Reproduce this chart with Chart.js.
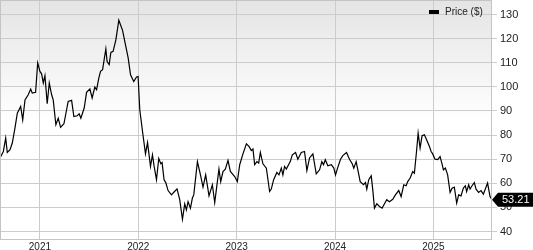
<!DOCTYPE html>
<html>
<head>
<meta charset="utf-8">
<script src="https://cdn.jsdelivr.net/npm/chart.js@4"></script>
<style>
  html, body { margin: 0; padding: 0; background: #fff; }
  #wrap { width: 533px; height: 250px; position: relative; }
</style>
</head>
<body>
<div id="wrap"><canvas id="PRICE_CHART"></canvas></div>
<script>
// dates as decimal years
const dates = [
  2020.594, 2020.628, 2020.652, 2020.668, 2020.696, 2020.719, 2020.746, 2020.770, 2020.804, 2020.825,
  2020.848, 2020.881, 2020.906, 2020.922, 2020.956, 2020.977, 2021.000, 2021.017, 2021.034, 2021.051,
  2021.074, 2021.095, 2021.119, 2021.135, 2021.162, 2021.186, 2021.210, 2021.244, 2021.271, 2021.287,
  2021.322, 2021.345, 2021.379, 2021.399, 2021.416, 2021.450, 2021.474, 2021.508, 2021.531, 2021.558,
  2021.576, 2021.599, 2021.616, 2021.637, 2021.670, 2021.683, 2021.704, 2021.721, 2021.744, 2021.772,
  2021.802, 2021.840, 2021.873, 2021.897, 2021.921, 2021.954, 2021.982, 2021.998, 2022.015, 2022.043,
  2022.073, 2022.094, 2022.124, 2022.144, 2022.161, 2022.185, 2022.208, 2022.229, 2022.242, 2022.262,
  2022.279, 2022.303, 2022.337, 2022.366, 2022.394, 2022.421, 2022.449, 2022.472, 2022.489, 2022.506,
  2022.530, 2022.550, 2022.564, 2022.601, 2022.632, 2022.658, 2022.685, 2022.719, 2022.753, 2022.777,
  2022.820, 2022.838, 2022.861, 2022.885, 2022.912, 2022.936, 2022.980, 2023.007, 2023.031, 2023.064,
  2023.099, 2023.125, 2023.149, 2023.166, 2023.183, 2023.206, 2023.224, 2023.241, 2023.267, 2023.302,
  2023.335, 2023.352, 2023.376, 2023.409, 2023.430, 2023.454, 2023.470, 2023.487, 2023.505, 2023.545,
  2023.566, 2023.599, 2023.622, 2023.657, 2023.690, 2023.714, 2023.741, 2023.775, 2023.809, 2023.843,
  2023.866, 2023.883, 2023.901, 2023.927, 2023.962, 2023.988, 2024.005, 2024.026, 2024.056, 2024.079,
  2024.117, 2024.147, 2024.175, 2024.191, 2024.215, 2024.232, 2024.256, 2024.289, 2024.310, 2024.323,
  2024.343, 2024.368, 2024.384, 2024.401, 2024.425, 2024.452, 2024.479, 2024.503, 2024.526, 2024.553,
  2024.587, 2024.614, 2024.648, 2024.672, 2024.699, 2024.723, 2024.739, 2024.764, 2024.790, 2024.807,
  2024.831, 2024.845, 2024.865, 2024.885, 2024.909, 2024.932, 2024.960, 2024.977, 2024.993, 2025.017,
  2025.044, 2025.068, 2025.088, 2025.102, 2025.122, 2025.145, 2025.170, 2025.190, 2025.213, 2025.237,
  2025.257, 2025.281, 2025.305, 2025.325, 2025.338, 2025.359, 2025.373, 2025.393, 2025.416, 2025.434,
  2025.460, 2025.484, 2025.508, 2025.535, 2025.551, 2025.576, 2025.596
];
const prices = [
  70.5, 73.2, 78.8, 72.8, 73.9, 76.7, 82.9, 89.1, 91.9, 86.3,
  94.6, 96.7, 99.1, 97.4, 97.7, 109.9, 106.4, 105.4, 101.6, 104.6,
  93.0, 101.6, 96.7, 94.6, 84.3, 87.0, 83.2, 84.7, 90.5, 93.9,
  94.4, 87.7, 88.0, 88.8, 87.0, 91.2, 97.7, 99.1, 95.4, 99.9,
  98.8, 103.7, 106.4, 107.1, 115.7, 110.5, 109.2, 114.3, 114.7, 119.5,
  127.6, 123.4, 116.8, 112.0, 105.0, 102.2, 104.1, 104.3, 90.5, 81.5,
  72.2, 76.9, 67.0, 71.8, 67.0, 61.5, 70.3, 68.1, 68.6, 61.5,
  60.3, 57.0, 55.2, 56.5, 57.7, 53.2, 45.1, 51.5, 49.0, 52.4,
  49.7, 53.9, 55.2, 69.0, 63.5, 58.4, 63.5, 54.8, 59.4, 52.0,
  65.9, 60.7, 64.9, 65.9, 69.5, 64.9, 62.8, 60.7, 67.7, 72.2,
  76.4, 75.3, 73.6, 74.2, 67.7, 69.0, 68.4, 72.8, 68.1, 66.3,
  56.6, 57.6, 61.5, 64.5, 63.5, 66.3, 63.5, 67.0, 65.9, 69.0,
  71.8, 72.8, 70.0, 72.8, 73.2, 65.3, 70.5, 72.2, 63.9, 65.6,
  69.0, 67.7, 69.8, 67.3, 67.7, 66.3, 63.5, 66.3, 70.0, 71.5,
  72.8, 70.0, 68.1, 66.3, 69.0, 65.6, 60.7, 59.4, 60.3, 57.6,
  61.5, 63.1, 57.3, 49.7, 51.5, 50.4, 49.7, 51.5, 53.2, 52.4,
  53.4, 55.2, 57.0, 54.5, 59.4, 59.0, 60.7, 62.2, 64.9, 64.2,
  74.2, 80.8, 74.6, 79.7, 80.1, 78.0, 75.3, 73.2, 72.2, 70.0,
  69.8, 71.1, 68.1, 65.6, 66.3, 63.5, 56.2, 58.0, 58.4, 51.8,
  55.2, 54.8, 58.0, 59.0, 56.6, 59.4, 57.6, 59.0, 60.3, 57.6,
  56.2, 57.0, 55.5, 58.4, 60.1, 54.5, 53.21
];
const yearTicks = [2021, 2022, 2023, 2024, 2025];
const priceTicks = [40, 50, 60, 70, 80, 90, 100, 110, 120, 130];
const seriesLabel = 'Price ($)';

const points = dates.map((d, i) => ({ x: d, y: prices[i] }));

// grey-to-white background, plot frame, legend and last-price tag
const decorPlugin = {
    id: 'decor',
    beforeDraw(chart) {
        const { ctx, chartArea: a } = chart;
        const g = ctx.createLinearGradient(0, a.top, 0, a.bottom);
        g.addColorStop(0, '#e4e4e4');
        g.addColorStop(0.5, '#ffffff');
        g.addColorStop(1, '#ffffff');
        ctx.save();
        ctx.fillStyle = g;
        ctx.fillRect(a.left, a.top, a.right - a.left, a.bottom - a.top);
        ctx.restore();
    },
    afterDraw(chart) {
        const { ctx, chartArea: a } = chart;
        const yScale = chart.scales.y;
        ctx.save();
        ctx.strokeStyle = '#c4c4c4';
        ctx.lineWidth = 1;
        ctx.strokeRect(a.left + 0.5, a.top + 0.5, a.right - a.left - 1, a.bottom - a.top - 1);

        // legend
        ctx.fillStyle = '#000';
        ctx.fillRect(429, 10, 10, 4);
        ctx.font = '10px "Liberation Sans", Arial, sans-serif';
        ctx.fillStyle = '#222';
        ctx.textBaseline = 'middle';
        ctx.fillText(seriesLabel, 445, 12.5);

        // last price tag
        const last = prices[prices.length - 1];
        const py = yScale.getPixelForValue(last);
        const x0 = a.right;
        ctx.fillStyle = '#000';
        ctx.beginPath();
        ctx.moveTo(x0, py);
        ctx.lineTo(x0 + 6, py - 7);
        ctx.lineTo(533, py - 7);
        ctx.lineTo(533, py + 7);
        ctx.lineTo(x0 + 6, py + 7);
        ctx.closePath();
        ctx.fill();
        ctx.fillStyle = '#fff';
        ctx.font = '11px "Liberation Sans", Arial, sans-serif';
        ctx.fillText(last.toFixed(2), x0 + 10, py + 0.5);
        ctx.restore();
    }
};

new Chart(document.getElementById('PRICE_CHART').getContext('2d'), {
    type: 'line',
    data: {
        datasets: [{
            label: seriesLabel,
            data: points,
            borderColor: '#000',
            backgroundColor: '#000',
            borderWidth: 1.2,
            pointRadius: 0,
            tension: 0
        }]
    },
    options: {
        responsive: true,
        maintainAspectRatio: false,
        animation: false,
        layout: { padding: 0 },
        plugins: {
            legend: { display: false },
            tooltip: { enabled: false }
        },
        scales: {
            x: {
                type: 'linear',
                min: 2020.594,
                max: 2025.596,
                afterFit(scale) {
                    scale.height = 10;
                    scale.paddingLeft = 0;
                    scale.paddingRight = 0;
                },
                afterBuildTicks(scale) { scale.ticks = yearTicks.map(v => ({ value: v })); },
                ticks: {
                    padding: 1,
                    maxRotation: 0,
                    autoSkip: false,
                    color: '#222',
                    font: { family: '"Liberation Sans", Arial, sans-serif', size: 10 },
                    callback: v => String(v)
                },
                grid: { color: '#cccccc', drawTicks: false },
                border: { display: false }
            },
            y: {
                position: 'right',
                min: 36.5,
                max: 136,
                afterFit(scale) {
                    scale.width = 41;
                    scale.paddingTop = 0;
                    scale.paddingBottom = 0;
                },
                afterBuildTicks(scale) { scale.ticks = priceTicks.map(v => ({ value: v })); },
                ticks: {
                    padding: 3,
                    color: '#222',
                    font: { family: '"Liberation Sans", Arial, sans-serif', size: 11 }
                },
                grid: { color: '#cccccc', tickLength: 5 },
                border: { display: false }
            }
        }
    },
    plugins: [decorPlugin]
});
</script>
</body>
</html>
